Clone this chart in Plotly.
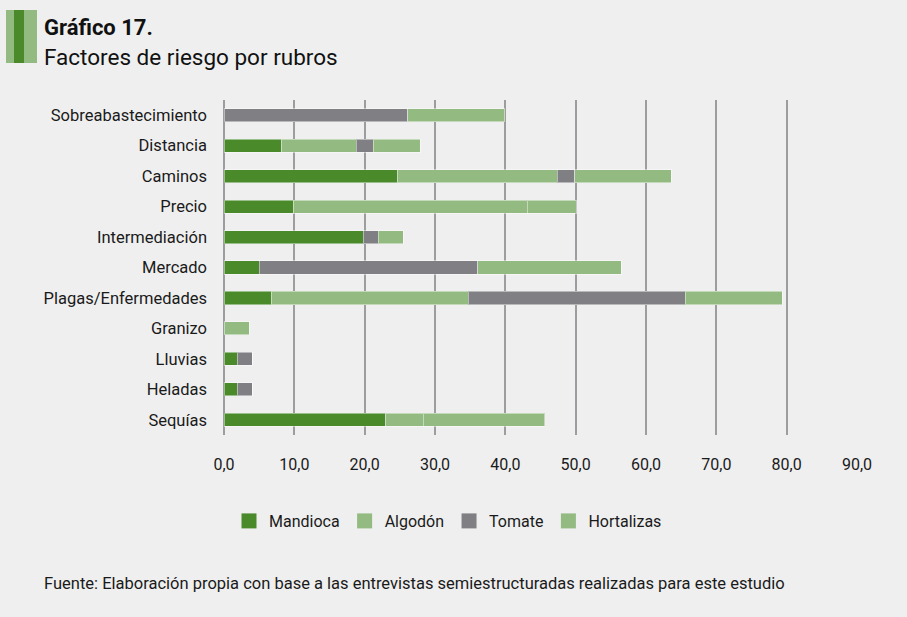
import plotly.graph_objects as go

categories = ["Sobreabastecimiento", "Distancia", "Caminos", "Precio", "Intermediación",
              "Mercado", "Plagas/Enfermedades", "Granizo", "Lluvias", "Heladas", "Sequías"]
mandioca = [0, 8.2, 24.7, 9.9, 19.8, 5.0, 6.8, 0, 1.9, 1.9, 23.0]
algodon = [0, 10.6, 22.7, 33.2, 0, 0, 27.9, 0, 0, 0, 5.3]
tomate = [26.1, 2.4, 2.5, 0, 2.1, 31.1, 30.9, 0, 2.1, 2.1, 0]
hortalizas = [13.8, 6.7, 13.7, 7.0, 3.6, 20.4, 13.8, 3.6, 0, 0, 17.3]
tick_vals = [0, 10, 20, 30, 40, 50, 60, 70, 80, 90]
tick_text = ["0,0", "10,0", "20,0", "30,0", "40,0", "50,0", "60,0", "70,0", "80,0", "90,0"]

series = [("Mandioca", mandioca, "#4a8a2b"), ("Algodón", algodon, "#93ba80"),
          ("Tomate", tomate, "#808084"), ("Hortalizas", hortalizas, "#93ba80")]

W, H = 907, 617
L, R, T, B = 224, 857, 100, 435
FONT = "Roboto"
TXT = "#1a1a1a"

def px(x):
    return (x - L) / (R - L)

def py(y):
    return (B - y) / (B - T)

fig = go.Figure()
for name, vals, col in series:
    fig.add_trace(go.Bar(
        y=categories, x=vals, name=name, orientation="h",
        marker=dict(color=col, line=dict(color="rgba(255,255,255,0.45)", width=1)),
        width=0.43, showlegend=False, legendgroup=name,
    ))
# legend entries with larger square swatches
for name, vals, col in series:
    fig.add_trace(go.Scatter(
        x=[None], y=[None], mode="markers", name=name, legendgroup=name,
        marker=dict(symbol="square", size=15, color=col), showlegend=True,
    ))

fig.update_layout(
    barmode="stack",
    width=W, height=H,
    paper_bgcolor="#efefef", plot_bgcolor="#efefef",
    margin=dict(l=L, r=W - R, t=T, b=H - B),
    font=dict(family=FONT, size=15, color=TXT),
    showlegend=True,
    legend=dict(orientation="h", x=px(229), y=py(504), xanchor="left", yanchor="top",
                font=dict(size=16, family=FONT, color=TXT), traceorder="normal",
                itemwidth=30, bgcolor="rgba(0,0,0,0)"),
    xaxis=dict(range=[0, 90], tickvals=tick_vals, ticktext=tick_text,
               showgrid=True, gridcolor="#9d9d9f", gridwidth=2,
               zeroline=True, zerolinecolor="#9d9d9f", zerolinewidth=2,
               showline=False, ticks="", ticklabelstandoff=18,
               tickfont=dict(size=16, family=FONT, color=TXT), fixedrange=True),
    yaxis=dict(categoryorder="array", categoryarray=categories, autorange="reversed",
               showgrid=False, showline=False, ticks="", ticklabelstandoff=16,
               tickfont=dict(size=16.5, family=FONT, color=TXT)),
)

# title decoration bars
for x0, x1, c in [(6, 14, "#93ba80"), (14, 24, "#4a8a2b"), (24, 37, "#93ba80")]:
    fig.add_shape(type="rect", xref="paper", yref="paper",
                  x0=px(x0), x1=px(x1), y0=py(63), y1=py(10),
                  fillcolor=c, line=dict(width=0), layer="above")

fig.add_annotation(text="<b>Gráfico 17.</b>", xref="paper", yref="paper",
                   x=px(42), y=py(27), xanchor="left", yanchor="middle",
                   showarrow=False, font=dict(size=22, family=FONT, color="#111111"))
fig.add_annotation(text="Factores de riesgo por rubros", xref="paper", yref="paper",
                   x=px(42), y=py(57), xanchor="left", yanchor="middle",
                   showarrow=False, font=dict(size=22.5, family=FONT, color="#111111"))
fig.add_annotation(text="Fuente: Elaboración propia con base a las entrevistas semiestructuradas realizadas para este estudio",
                   xref="paper", yref="paper", x=px(42), y=py(583), xanchor="left", yanchor="middle",
                   showarrow=False, font=dict(size=16.5, family=FONT, color=TXT))

fig.write_html("out.html", config={"displayModeBar": False},
               post_script="document.body.style.margin='0';document.body.style.background='#efefef';")
